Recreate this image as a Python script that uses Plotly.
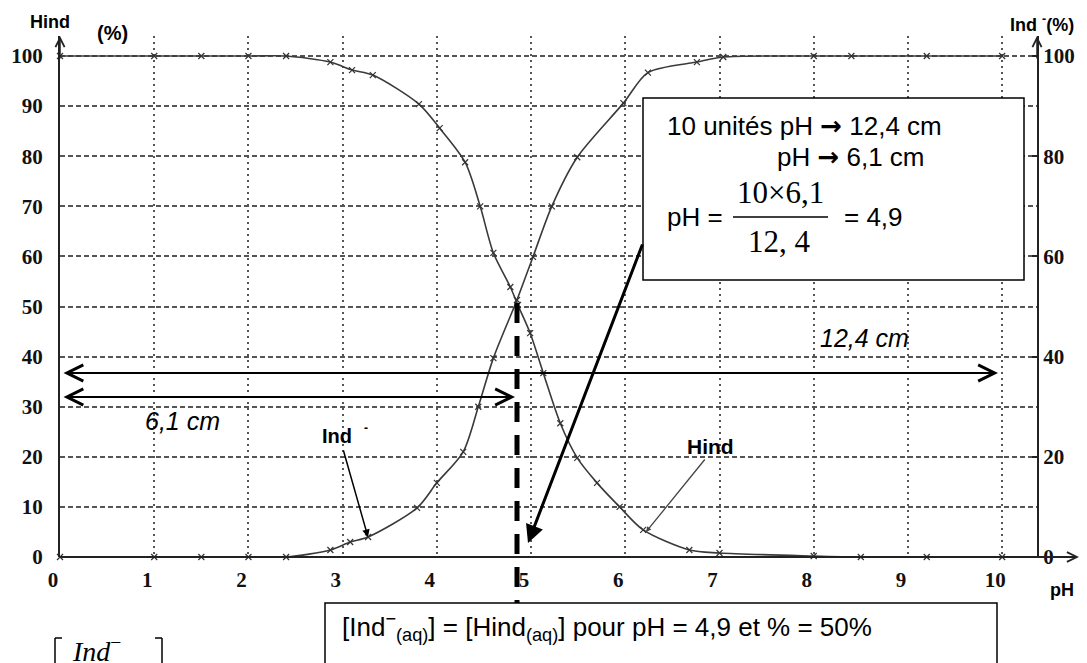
import plotly.graph_objects as go

W, H = 1087, 663

# ---- data ----
ph_hind = [0, 1.0, 1.5, 2.0, 2.4, 2.87, 3.1, 3.32, 3.81, 4.03, 4.30, 4.46, 4.6, 4.78, 4.86,
           4.99, 5.13, 5.31, 5.49, 5.70, 5.94, 6.19, 6.68, 7.0, 8.0, 8.5, 9.2, 10.0]
hind = [100, 100, 100, 100, 100, 98.8, 97.2, 96.2, 90.4, 85.6, 78.8, 70, 60.7, 53.9, 50.3,
        44.7, 36.7, 26.7, 19.8, 14.8, 10, 5.4, 1.4, 0.8, 0.2, 0, 0, 0]

ph_ind = [0, 1.0, 1.5, 2.0, 2.4, 2.87, 3.08, 3.27, 3.79, 4.0, 4.28, 4.44, 4.6, 4.85,
          5.02, 5.22, 5.49, 5.98, 6.24, 6.76, 7.04, 8.0, 8.4, 9.2, 10.0]
ind = [0, 0, 0, 0, 0, 1.4, 3, 4, 9.8, 14.8, 21, 30, 39.7, 51.3,
       59.9, 70, 79.8, 90.6, 96.7, 98.8, 99.8, 100, 100, 100, 100]

x_ticks = list(range(0, 11))
x_tick_labels = [str(v) for v in x_ticks]
left_ticks = list(range(0, 101, 10))
right_ticks = list(range(0, 101, 20))


def X(p):
    return p / W


def Y(p):
    return 1 - p / H


INK = '#333333'
SERIF = 'Liberation Serif'
SANS = 'Liberation Sans'

fig = go.Figure()
fig.add_trace(go.Scatter(
    x=ph_hind, y=hind, mode='lines+markers', name='Hind', showlegend=False,
    line=dict(color='#3a3a3a', width=1.6, shape='spline', smoothing=0.8),
    marker=dict(symbol='x-thin', size=6, line=dict(width=1.2, color=INK)),
    cliponaxis=False))
fig.add_trace(go.Scatter(
    x=ph_ind, y=ind, mode='lines+markers', name='Ind-', showlegend=False, yaxis='y2',
    line=dict(color='#3a3a3a', width=1.6, shape='spline', smoothing=0.8),
    marker=dict(symbol='x-thin', size=6, line=dict(width=1.2, color=INK)),
    cliponaxis=False))

tickfont = dict(family=SERIF, size=21, color='#111', weight='bold')

annotations = []
shapes = []


def txt(x, y, s, size, xanchor='center', yanchor='middle', family=SANS, weight='normal',
        style='normal'):
    annotations.append(dict(x=X(x), y=Y(y), xref='paper', yref='paper', text=s,
                            showarrow=False, xanchor=xanchor, yanchor=yanchor,
                            font=dict(family=family, size=size, color='#000',
                                      weight=weight, style=style)))


def arrow(hx, hy, tx, ty, head=2, size=1.0, width=1.5, side='end', color='#000'):
    annotations.append(dict(x=X(hx), y=Y(hy), xref='paper', yref='paper', text='',
                            showarrow=True, ax=tx - hx, ay=ty - hy,
                            axref='pixel', ayref='pixel',
                            arrowhead=head, startarrowhead=head,
                            arrowsize=size, startarrowsize=size,
                            arrowwidth=width, arrowcolor=color, arrowside=side,
                            standoff=0, startstandoff=0))


def line(x0, y0, x1, y1, width=1.5, dash='solid', color='#000'):
    shapes.append(dict(type='line', xref='paper', yref='paper',
                       x0=X(x0), y0=Y(y0), x1=X(x1), y1=Y(y1),
                       line=dict(color=color, width=width, dash=dash)))


def rect(x0, y0, x1, y1):
    shapes.append(dict(type='rect', xref='paper', yref='paper',
                       x0=X(x0), y0=Y(y0), x1=X(x1), y1=Y(y1),
                       line=dict(color='#000', width=1.5), fillcolor='white'))


ARROW = "<span style='font-family:DejaVu Sans;font-weight:bold'>\u2192</span>"

# x axis line with arrow
line(60, 557, 1074, 557, width=2, color='#222')
arrow(1079, 557, 1060, 557, head=5, size=1.3, width=1.5, color='#222')
# y axes arrows
arrow(60, 36, 60, 60, head=5, size=1.2, width=1.5, color='#222')
arrow(1037, 36, 1037, 60, head=5, size=1.2, width=1.5, color='#222')

# axis titles
txt(50, 22, 'Hind', 18, weight='bold')
txt(112, 33, '(%)', 20, weight='bold')
txt(1042, 24, 'Ind <sup>-</sup>(%)', 18, weight='bold')
txt(1062, 590, 'pH', 18, weight='bold')

# dashed vertical line at pH 4.9
line(517, 303, 517, 612, width=5, dash='20px,13px', color='#000')

# 12,4 cm and 6,1 cm double arrows
arrow(998, 373, 62, 373, head=5, size=1.6, width=2, side='end+start')
arrow(515, 397, 62, 397, head=5, size=1.6, width=2, side='end+start')
txt(864, 338, '12,4 cm', 25, style='italic')
txt(182, 421, '6,1 cm', 25, style='italic')

# curve labels
txt(337, 436, 'Ind', 20, weight='bold')
txt(366, 428, '-', 12, weight='bold')
arrow(368, 537, 343, 449, head=2, size=1.0, width=1.5)
txt(710, 446, 'Hind', 21, weight='bold')
arrow(646, 532, 706, 458, head=2, size=0.8, width=1.3, color='#444')

# top-right box
rect(643, 98, 1024, 280)
txt(665, 126, '10 unités pH ' + ARROW + ' 12,4 cm', 26, xanchor='left')
txt(775, 157, 'pH ' + ARROW + ' 6,1 cm', 26, xanchor='left')
txt(665, 217, 'pH = ', 26, xanchor='left')
txt(780, 192, '10\u00d76,1', 31, family=SERIF)
line(733, 217, 828, 217, width=1.3)
txt(779, 241, '12, 4', 31, family=SERIF)
txt(842, 217, '= 4,9', 26, xanchor='left')

# thick arrow to the dashed line
arrow(528, 543, 643, 243, head=2, size=1.2, width=3)

# bottom box
rect(325, 603, 997, 690)
txt(340, 627, '[Ind<sup>\u2212</sup><sub>(aq)</sub>] = [Hind<sub>(aq)</sub>] pour pH = 4,9 et % = 50%',
    26, xanchor='left')

# partial formula bottom-left
line(55, 638, 55, 663, width=1.5)
line(55, 638, 62, 638, width=1.5)
line(162, 638, 162, 663, width=1.5)
line(155, 638, 162, 638, width=1.5)
txt(70, 630, '<i>Ind</i><sup>\u2212</sup>', 28, xanchor='left', yanchor='top', family=SERIF)

fig.update_layout(
    width=W, height=H, autosize=False,
    margin=dict(l=0, r=0, t=0, b=0),
    paper_bgcolor='white', plot_bgcolor='white',
    showlegend=False,
    xaxis=dict(domain=[X(60), X(1037)], range=[0, 10.37], tickvals=x_ticks,
               ticktext=x_tick_labels, tickfont=tickfont, showgrid=True,
               gridcolor='#555', gridwidth=1.5, griddash='2px,4px',
               ticks='', showline=False, zeroline=False,
               ticklabelshift=-7, ticklabelstandoff=8, automargin=False),
    yaxis=dict(domain=[Y(557), Y(36)], range=[0, 104], tickvals=left_ticks,
               tickfont=tickfont, showgrid=True, gridcolor='#555', gridwidth=1.5,
               griddash='5px,3px', showline=True, linecolor='#222', linewidth=2,
               ticks='', zeroline=False, ticklabelstandoff=11, automargin=False),
    yaxis2=dict(overlaying='y', side='right', range=[0, 104], tickvals=right_ticks,
                tickfont=tickfont, showgrid=False, showline=True, linecolor='#222',
                linewidth=2, ticks='inside', ticklen=5, tickwidth=1.5, tickcolor='#222',
                zeroline=False, automargin=False),
    annotations=annotations,
    shapes=shapes,
)

fig.write_html('out.html', config={'displayModeBar': False},
               post_script="document.body.style.margin='0px';document.body.style.overflow='hidden';")
